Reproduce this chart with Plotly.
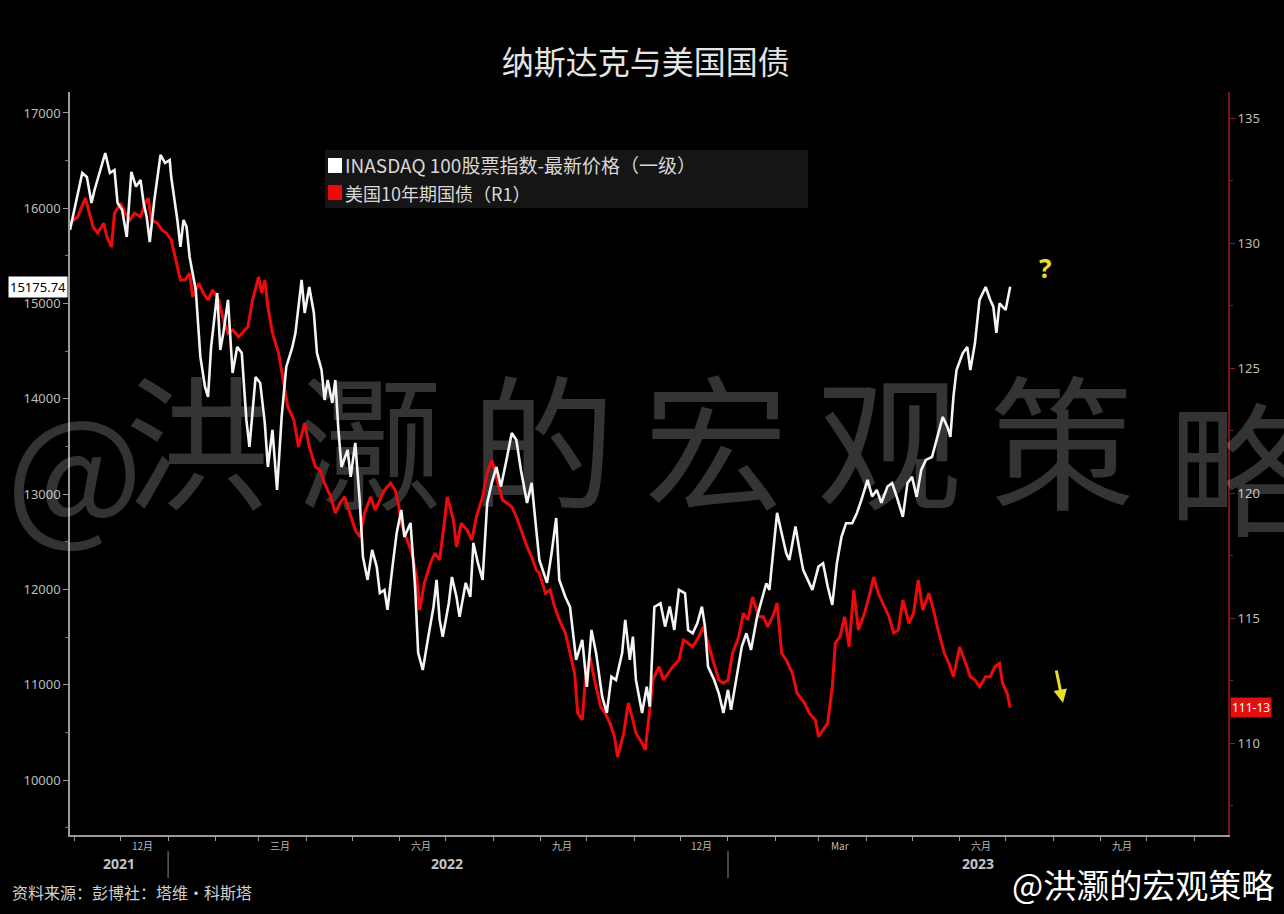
import pandas as pd
import plotly.graph_objects as go

START = pd.Timestamp("2021-10-29")

# ---- NASDAQ 100 (left axis) : day offset from START, value ----
nd_days = [0, 8, 11, 14, 16, 23, 26, 29, 31, 34, 37, 40, 43, 46, 48, 50, 52, 55, 59, 62,
           65, 66, 70, 72, 74, 76, 78, 82, 85, 88, 90, 92, 96, 98, 100, 103, 106, 109, 112, 115,
           117, 121, 124, 127, 129, 132, 135, 138, 141, 145, 147, 151, 153, 156, 159, 161, 164, 166, 168, 171,
           173, 175, 177, 181, 183, 186, 189, 191, 194, 197, 200, 202, 205, 207, 210, 213, 216, 218, 222, 225,
           227, 230, 234, 237, 239, 241, 243, 247, 249, 252, 254, 258, 261, 263, 266, 269, 272, 275, 278, 281,
           285, 288, 291, 294, 298, 301, 304, 306, 311, 314, 317, 319, 323, 326, 330, 334, 337, 340, 343, 347,
           350, 353, 356, 360, 362, 365, 367, 369, 373, 376, 378, 381, 385, 388, 391, 394, 397, 401, 403, 406,
           409, 412, 414, 416, 420, 423, 426, 429, 431, 435, 438, 441, 444, 448, 451, 454, 456, 459, 461, 464,
           467, 469, 473, 476, 478, 481, 484, 488, 491, 494, 497, 500, 503, 506, 510, 513, 516, 520, 523, 526,
           529, 533, 536, 539, 543, 546, 549, 552, 555, 558, 562, 565, 569, 572, 574, 576, 578, 582, 585, 587,
           590, 593, 597, 600, 602, 604, 606, 610, 613]
nd_vals = [15772, 16370, 16328, 16056, 16192, 16580, 16370, 16402, 16056, 15982, 15699, 16381, 16227, 16297, 16056, 15909, 15646, 16087, 16559, 16475,
           16507, 16328, 15877, 15594, 15877, 15804, 15489, 15143, 14440, 14128, 14020, 14545, 15111, 14513, 14692, 15038, 14272, 14545, 14482, 13779,
           13495, 14230, 14167, 13747, 13285, 13674, 13044, 13810, 14335, 14545, 14692, 15248, 14901, 15174, 14901, 14482, 14303, 13989, 14198, 13957,
           14198, 13674, 13285, 13464, 13181, 13537, 12908, 12341, 12100, 12415, 12237, 11963, 11995, 11785, 12205, 12593, 12834, 12551, 12698, 12026,
           11334, 11155, 11540, 11816, 12100, 11680, 11502, 11858, 12131, 11921, 11712, 12069, 11921, 12488, 12275, 12100, 12908, 13118, 13285, 13079,
           13393, 13642, 13569, 13254, 12908, 13118, 12624, 12310, 12069, 12383, 12750, 12100, 11921, 11816, 11260, 11470, 10977, 11575, 11334, 10872,
           10704, 11085, 11050, 11334, 11680, 11260, 11505, 11050, 10704, 10980, 10770, 11816, 11855, 11610, 11820, 11575, 11995, 11960, 11575, 11540,
           11645, 11820, 11610, 11190, 11050, 10910, 10704, 10946, 10736, 11120, 11400, 11540, 11365, 11715, 11890, 12065, 11995, 12450, 12803, 12590,
           12380, 12310, 12660, 12380, 12205, 12100, 11995, 12240, 12275, 12030, 11837, 12275, 12551, 12695, 12695, 12800, 12939, 13149, 12975, 13044,
           12908, 13080, 13115, 12975, 12761, 13115, 13181, 12971, 13254, 13359, 13390, 13569, 13810, 13708, 13600, 14023, 14303, 14478, 14545, 14303,
           14583, 15038, 15174, 15038, 14968, 14692, 15003, 14933, 15175.74]

# ---- US 10Y Treasury futures (right axis) ----
ty_days = [0, 5, 10, 13, 15, 18, 22, 24, 27, 29, 33, 36, 39, 42, 46, 49, 51, 53, 57, 60,
           63, 66, 70, 72, 75, 78, 80, 84, 87, 90, 93, 97, 100, 103, 106, 110, 113, 116, 119, 123,
           125, 127, 129, 132, 136, 139, 142, 146, 149, 153, 156, 160, 163, 166, 170, 173, 176, 179, 183, 186,
           189, 192, 196, 199, 202, 205, 209, 212, 214, 216, 219, 223, 226, 228, 231, 235, 238, 241, 244, 246,
           250, 252, 255, 259, 262, 265, 269, 272, 275, 278, 282, 285, 288, 291, 295, 298, 301, 304, 306, 310,
           313, 316, 319, 323, 326, 329, 331, 334, 336, 339, 342, 346, 349, 352, 355, 357, 361, 364, 367, 369,
           373, 375, 378, 380, 384, 387, 390, 393, 397, 400, 403, 406, 410, 413, 416, 419, 423, 426, 429, 432,
           436, 439, 442, 445, 449, 452, 455, 459, 461, 464, 467, 471, 474, 476, 479, 482, 486, 488, 491, 494,
           497, 499, 502, 505, 508, 511, 514, 518, 521, 524, 527, 530, 534, 537, 540, 543, 547, 550, 553, 556,
           560, 563, 566, 570, 573, 576, 580, 584, 587, 590, 593, 597, 600, 603, 606, 608, 611, 613]
ty_vals = [130.80, 131.05, 131.80, 131.05, 130.65, 130.40, 130.79, 130.25, 129.84, 131.19, 131.60, 131.19, 130.92, 131.19, 131.05, 131.59, 131.80, 130.92, 130.79, 130.52,
           130.39, 130.12, 129.04, 128.52, 128.52, 128.79, 127.84, 128.39, 127.99, 127.72, 128.12, 127.72, 126.92, 126.39, 126.52, 126.25, 126.45, 126.65, 127.72, 128.64,
           127.99, 128.52, 127.45, 126.40, 125.59, 124.52, 123.45, 122.92, 121.84, 122.80, 121.85, 121.05, 120.92, 120.39, 119.85, 119.20, 119.59, 119.85, 119.04, 118.52,
           118.24, 119.19, 119.85, 119.32, 119.72, 120.12, 120.39, 120.12, 119.59, 118.80, 118.25, 117.59, 116.64, 115.32, 116.39, 117.19, 117.60, 117.32, 118.79, 119.84,
           118.92, 117.84, 118.79, 118.52, 118.12, 119.05, 119.84, 120.79, 121.32, 120.65, 119.72, 119.59, 119.45, 119.05, 118.40, 117.85, 117.45, 116.92, 116.79, 115.99,
           116.12, 115.45, 114.92, 114.40, 113.59, 112.79, 111.20, 110.92, 112.52, 113.44, 112.52, 111.44, 111.19, 110.80, 110.25, 109.44, 110.39, 111.60, 110.92, 110.39,
           109.99, 109.72, 111.32, 112.52, 113.05, 112.52, 112.79, 113.05, 113.32, 114.12, 113.99, 113.85, 114.25, 114.65, 113.99, 113.32, 112.52, 112.39, 112.52, 113.60,
           114.25, 115.19, 114.92, 115.84, 115.05, 115.05, 114.65, 115.19, 115.60, 113.59, 113.32, 112.79, 111.99, 111.84, 111.59, 111.19, 110.92, 110.25, 110.52, 110.80,
           112.25, 114.00, 114.25, 115.05, 113.85, 116.12, 114.52, 115.19, 115.85, 116.64, 115.99, 115.59, 115.05, 114.40, 114.52, 115.72, 114.79, 115.19, 116.52, 115.32,
           115.99, 115.32, 114.52, 113.60, 113.19, 112.65, 113.84, 113.19, 112.65, 112.52, 112.25, 112.65, 112.65, 113.05, 113.19, 112.39, 111.99, 111.41]

# ---- axis labels ----
left_ticks = [10000, 11000, 12000, 13000, 14000, 15000, 16000, 17000]
right_ticks = [110, 115, 120, 125, 130, 135]
month_labels = ["12月", "三月", "六月", "九月", "12月", "Mar", "六月", "九月"]
month_label_dates = ["2021-12-15", "2022-03-15", "2022-06-15", "2022-09-15",
                     "2022-12-15", "2023-03-15", "2023-06-15", "2023-09-15"]
year_labels = ["2021", "2022", "2023"]
year_label_dates = ["2021-11-30", "2022-07-02", "2023-06-13"]
year_breaks = ["2022-01-01", "2023-01-01"]

legend_nd = "INASDAQ 100股票指数-最新价格（一级）"
legend_ty = "美国10年期国债（R1）"
last_nd_label = "15175.74"
last_ty_label = "111-13"
watermark = "@洪灏的宏观策略"

AXIS_DAYS = 755
X_END = START + pd.Timedelta(days=AXIS_DAYS)
nd_x = [START + pd.Timedelta(days=d) for d in nd_days]
ty_x = [START + pd.Timedelta(days=d) for d in ty_days]

FONT = "Noto Sans, Noto Sans CJK SC, sans-serif"
CJK = "Noto Sans CJK SC, Noto Sans, sans-serif"
WM_SIZE = 145
WM_Y = 0.501

fig = go.Figure()

# watermark glyphs inside the plot (base layer, beneath the series); fractions of plot width
wm_chars = list(watermark)
wm_frac = [0.1097 + 0.1494 * i for i in range(7)]
inner = wm_chars[1:7]
inner_x = [START + pd.Timedelta(days=AXIS_DAYS * f) for f in wm_frac[:6]]
fig.add_trace(go.Scatter(x=inner_x, y=[WM_Y] * len(inner_x), mode="text", text=inner,
                         textposition="middle center",
                         textfont=dict(family=CJK, size=WM_SIZE, color="#343434"),
                         yaxis="y", hoverinfo="skip", showlegend=False, cliponaxis=False))

fig.add_trace(go.Scatter(x=ty_x, y=ty_vals, mode="lines", yaxis="y2",
                         line=dict(color="#ee0a0a", width=3), showlegend=False))
fig.add_trace(go.Scatter(x=nd_x, y=nd_vals, mode="lines", yaxis="y3",
                         line=dict(color="#f4f4f4", width=2.6), showlegend=False))

month_ticks = pd.date_range("2021-11-01", "2023-11-01", freq="MS")

fig.update_layout(
    width=1284, height=914,
    paper_bgcolor="black", plot_bgcolor="black",
    margin=dict(l=70, r=56, t=92, b=79),
    showlegend=False,
    font=dict(family=FONT, color="#c8c8c8"),
    title=dict(text="纳斯达克与美国国债", x=0.503, xanchor="center", y=0.931, yanchor="middle",
               xref="container", yref="container",
               font=dict(family=CJK, size=32, color="#e4e4e4")),
    xaxis=dict(type="date", range=[START, X_END], showgrid=False, zeroline=False,
               showline=True, linecolor="#9a9a9a", linewidth=1.5,
               tickvals=list(month_ticks), ticks="outside", ticklen=4, tickcolor="#9a9a9a",
               showticklabels=False),
    yaxis=dict(range=[0, 1], visible=False, fixedrange=True),
    yaxis2=dict(overlaying="y", side="right", range=[106.32, 136.04],
                tickvals=right_ticks, ticks="outside", ticklen=5, tickcolor="#8a2020",
                showline=True, linecolor="#7a1212", linewidth=2, showgrid=False, zeroline=False,
                tickfont=dict(size=13, color="#bdbdbd"),
                minor=dict(dtick=2.5, ticks="outside", ticklen=3, tickcolor="#8a2020")),
    yaxis3=dict(overlaying="y", side="left", range=[9423, 17220],
                tickvals=left_ticks, tickformat="d", ticks="outside", ticklen=5, tickcolor="#9a9a9a",
                showline=True, linecolor="#9a9a9a", linewidth=1.5, showgrid=False, zeroline=False,
                tickfont=dict(size=13, color="#bdbdbd"),
                minor=dict(dtick=500, ticks="outside", ticklen=3, tickcolor="#777777")),
)

ann = []
shapes = []

# watermark glyphs that sit over the axes margins (translucent so axis labels stay readable)
for ch, xp in [(wm_chars[0], 0.0035), (wm_chars[7], 1.0104)]:
    ann.append(dict(x=xp, y=WM_Y, xref="paper", yref="paper", text=ch, showarrow=False,
                    xanchor="center", yanchor="middle",
                    font=dict(family=CJK, size=WM_SIZE, color="rgba(255,255,255,0.2)")))

# month and year labels
for lab, d in zip(month_labels, month_label_dates):
    ann.append(dict(x=d, y=-0.0135, xref="x", yref="paper", text=lab, showarrow=False,
                    xanchor="center", yanchor="middle",
                    font=dict(family=CJK, size=10, color="#bbbbbb")))
for lab, d in zip(year_labels, year_label_dates):
    ann.append(dict(x=d, y=-0.039, xref="x", yref="paper", text="<b>" + lab + "</b>", showarrow=False,
                    xanchor="center", yanchor="middle",
                    font=dict(family=FONT, size=14, color="#c4c4c4")))
for d in year_breaks:
    shapes.append(dict(type="line", xref="x", yref="paper", x0=d, x1=d, y0=-0.022, y1=-0.058,
                       line=dict(color="#5a5a5a", width=1.5)))

# legend box
shapes.append(dict(type="rect", xref="paper", yref="paper", x0=0.2202, x1=0.6373, y0=0.8439, y1=0.9219,
                   fillcolor="#151515", line=dict(width=0), layer="below"))
shapes.append(dict(type="rect", xref="paper", yref="paper", x0=0.2228, x1=0.2349, y0=0.891, y1=0.9112,
                   fillcolor="#ffffff", line=dict(width=0)))
shapes.append(dict(type="rect", xref="paper", yref="paper", x0=0.2228, x1=0.2349, y0=0.8546, y1=0.8748,
                   fillcolor="#ee0a0a", line=dict(width=0)))
ann.append(dict(x=0.2358, y=0.9018, xref="paper", yref="paper", text=legend_nd, showarrow=False,
                xanchor="left", yanchor="middle", font=dict(family=CJK, size=19, color="#d8d8d8")))
ann.append(dict(x=0.2358, y=0.864, xref="paper", yref="paper", text=legend_ty, showarrow=False,
                xanchor="left", yanchor="middle", font=dict(family=CJK, size=18, color="#d8d8d8")))

# last value tags
ann.append(dict(x=-0.002, y=nd_vals[-1], xref="paper", yref="y3", text=last_nd_label, showarrow=False,
                xanchor="right", yanchor="middle", bgcolor="#ffffff", borderpad=1,
                font=dict(family=FONT, size=13, color="#000000")))
ann.append(dict(x=1.002, y=ty_vals[-1], xref="paper", yref="y2", text=last_ty_label, showarrow=False,
                xanchor="left", yanchor="middle", bgcolor="#e01010", borderpad=1,
                font=dict(family=FONT, size=12, color="#ffffff")))

# yellow marks
ann.append(dict(x=0.842, y=0.763, xref="paper", yref="paper", text="<b>?</b>", showarrow=False,
                xanchor="center", yanchor="middle", font=dict(family=FONT, size=26, color="#e8de2a")))
ann.append(dict(x=0.8575, y=0.1777, xref="paper", yref="paper", text="", showarrow=True,
                ax=-7, ay=-34, arrowcolor="#e8de2a", arrowwidth=3, arrowhead=2, arrowsize=0.9))

# footer
ann.append(dict(x=-0.052, y=-0.0767, xref="paper", yref="paper", text="资料来源：彭博社：塔维·科斯塔",
                showarrow=False, xanchor="left", yanchor="middle",
                font=dict(family=CJK, size=16, color="#cfcfcf")))
ann.append(dict(x=1.0415, y=-0.066, xref="paper", yref="paper", text="@洪灏的宏观策略",
                showarrow=False, xanchor="right", yanchor="middle",
                font=dict(family=CJK, size=33, color="#ffffff")))

fig.update_layout(annotations=ann, shapes=shapes)
fig.write_html("out.html")
